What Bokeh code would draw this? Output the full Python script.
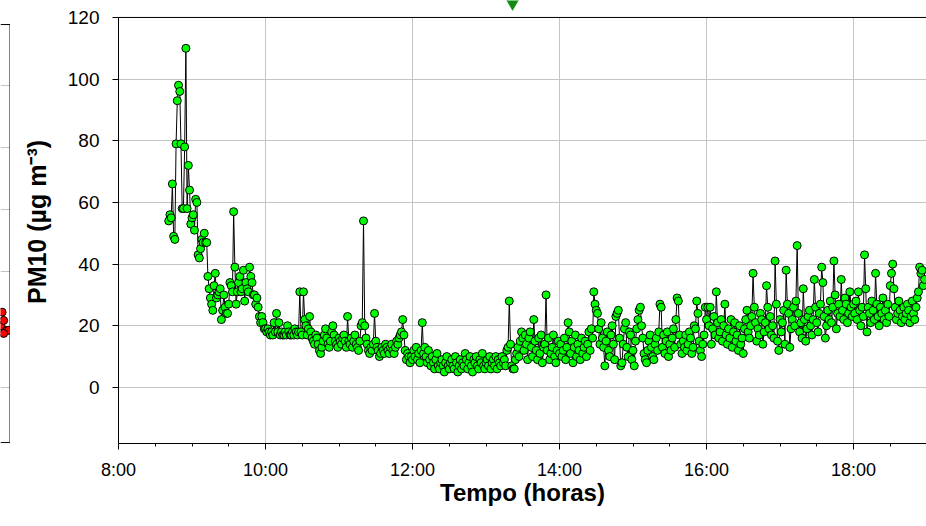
from bokeh.plotting import figure
from bokeh.layouts import row
from bokeh.models import FixedTicker, Range1d, Span, ColumnDataSource
from bokeh.embed import file_html
from bokeh.resources import INLINE

# ---- data (PM10, one sample per minute, first sample at 8:41) ----
start_minute = 41          # minutes after 8:00
step_minutes = 1

pm10_0841_0920 = [54, 56, 55, 66, 49, 48, 79, 93, 98, 96,
                  79, 58, 58, 78, 110, 58, 72, 64, 53, 55,
                  56, 51, 61, 60, 43, 42, 45, 48, 47, 50,
                  47, 47, 36, 32, 29, 27, 25, 33, 37, 29]
pm10_0921_1000 = [30, 31, 32, 22, 25, 30, 26, 24, 24, 27,
                  34, 33, 31, 57, 39, 27, 31, 34, 36, 31,
                  32, 38, 28, 34, 32, 31, 39, 36, 34, 30,
                  30, 27, 29, 26, 23, 21, 23, 21, 19, 19]
pm10_1001_1100 = [18, 19, 18, 17, 18, 17, 21, 18, 24, 18,
                  21, 17, 18, 17, 17, 18, 17, 20, 18, 17,
                  17, 18, 17, 19, 18, 17, 18, 31, 18, 17,
                  31, 22, 20, 17, 19, 23, 18, 16, 15, 14,
                  17, 16, 14, 12, 11, 13, 15, 17, 19, 16,
                  14, 13, 15, 18, 20, 17, 15, 14, 13, 16]
pm10_1101_1200 = [15, 14, 16, 17, 15, 13, 23, 15, 14, 16,
                  13, 15, 17, 14, 13, 12, 15, 20, 21, 54,
                  20, 16, 14, 12, 11, 13, 12, 14, 24, 15,
                  13, 12, 10, 11, 13, 12, 11, 14, 13, 12,
                  11, 13, 14, 12, 11, 13, 15, 14, 16, 17,
                  18, 22, 17, 12, 9, 11, 10, 8, 10, 9]
pm10_1201_1300 = [12, 10, 13, 9, 11, 8, 12, 21, 11, 13,
                  10, 8, 12, 9, 7, 10, 8, 6, 9, 11,
                  7, 6, 8, 9, 7, 5, 8, 10, 7, 6,
                  8, 9, 7, 6, 10, 8, 5, 7, 9, 6,
                  8, 7, 11, 9, 6, 8, 10, 7, 5, 9,
                  8, 10, 7, 6, 9, 8, 11, 7, 6, 8]
pm10_1301_1400 = [9, 7, 10, 6, 8, 9, 7, 10, 6, 9,
                  8, 7, 10, 8, 9, 7, 12, 13, 28, 14,
                  7, 6, 6, 9, 11, 13, 10, 15, 18, 16,
                  12, 17, 14, 9, 16, 18, 13, 10, 22, 15,
                  12, 9, 16, 11, 17, 8, 13, 14, 30, 12,
                  16, 9, 11, 13, 17, 10, 8, 12, 15, 11]
pm10_1401_1500 = [14, 10, 12, 16, 9, 13, 21, 18, 11, 15,
                  8, 13, 17, 10, 14, 12, 9, 16, 11, 13,
                  15, 10, 14, 18, 12, 19, 16, 31, 27, 25,
                  24, 19, 14, 21, 16, 13, 7, 15, 18, 12,
                  10, 17, 20, 14, 9, 23, 24, 25, 16, 7,
                  8, 14, 19, 21, 13, 10, 18, 17, 9, 12]
pm10_1501_1600 = [7, 15, 19, 22, 25, 26, 20, 16, 11, 9,
                  8, 12, 15, 17, 13, 10, 9, 14, 16, 12,
                  18, 27, 26, 13, 17, 11, 15, 18, 10, 14,
                  12, 16, 19, 13, 22, 29, 28, 17, 14, 11,
                  15, 13, 17, 12, 14, 18, 16, 11, 13, 20,
                  19, 28, 24, 15, 12, 10, 14, 17, 26, 22]
pm10_1601_1700 = [26, 20, 26, 14, 19, 23, 17, 31, 21, 16,
                  18, 22, 15, 20, 27, 17, 14, 19, 16, 22,
                  13, 18, 21, 15, 17, 12, 20, 14, 16, 11,
                  19, 22, 25, 18, 16, 20, 23, 37, 26, 21,
                  15, 19, 17, 24, 22, 14, 18, 21, 33, 26,
                  19, 23, 17, 20, 16, 41, 27, 15, 12, 22]
pm10_1701_1800 = [18, 21, 25, 14, 38, 27, 24, 13, 19, 22,
                  26, 20, 28, 46, 24, 18, 21, 16, 32, 22,
                  15, 19, 23, 25, 20, 17, 22, 35, 26, 21,
                  18, 24, 27, 39, 34, 23, 16, 20, 25, 22,
                  28, 21, 26, 41, 30, 19, 24, 27, 23, 35,
                  25, 22, 29, 27, 21, 24, 31, 26, 23, 27]
pm10_1801_1858 = [24, 28, 22, 31, 25, 20, 26, 23, 43, 32,
                  18, 26, 24, 21, 28, 25, 22, 37, 27, 23,
                  20, 26, 24, 29, 22, 25, 21, 27, 23, 33,
                  37, 40, 32, 26, 22, 24, 28, 25, 21, 23,
                  26, 22, 24, 27, 25, 21, 23, 28, 24, 22,
                  26, 29, 31, 39, 37, 38, 33, 35]

pm10 = (pm10_0841_0920 + pm10_0921_1000 + pm10_1001_1100 + pm10_1101_1200 +
        pm10_1201_1300 + pm10_1301_1400 + pm10_1401_1500 + pm10_1501_1600 +
        pm10_1601_1700 + pm10_1701_1800 + pm10_1801_1858)
hours = [8 + (start_minute + i * step_minutes) / 60 for i in range(len(pm10))]

x_ticks = [8, 10, 12, 14, 16, 18]
x_tick_labels = ["8:00", "10:00", "12:00", "14:00", "16:00", "18:00"]
x_minor_ticks = [8.5, 9, 9.5, 10.5, 11, 11.5, 12.5, 13, 13.5, 14.5, 15, 15.5,
                 16.5, 17, 17.5, 18.5]
y_ticks = [0, 20, 40, 60, 80, 100, 120]
y_axis_min, y_axis_max = -18.2, 120
y_view_max = 125.5

x_label = "Tempo (horas)"
y_label = "PM10 (µg m⁻³)"

# neighbouring panel (only its right edge is visible at the left)
left_x = [0.5, 3.3, 1.7, 6.7, 8.3, 3.3]
left_v = [20.0, 21.7, 24.4, 18.5, 18.5, 17.5]
left_grid_levels = [0, 17.5, 37.6, 57.7, 77.8, 98.0]
left_box = (-17.9, 117.7)
left_edge = 10

# marker from the panel above (only its tip is visible)
marker_time = [13.361]
marker_level = [124.9]

font = "Liberation Sans"

# ---------------- left strip (neighbouring panel) ----------------
lp = figure(width=10, height=526, output_backend="svg", toolbar_location=None,
            x_range=Range1d(0, 10.5), y_range=Range1d(y_axis_min, y_view_max),
            min_border_left=0, min_border_right=0, min_border_top=0,
            min_border_bottom=83, x_axis_location=None, y_axis_location=None)
lp.outline_line_color = None
lp.xgrid.visible = False
lp.ygrid.ticker = FixedTicker(ticks=left_grid_levels)
lp.ygrid.grid_line_color = "#c4c4c4"
lp.segment(x0=[left_edge], y0=[left_box[0]], x1=[left_edge], y1=[left_box[1]],
           line_color="black", line_width=1)
lp.segment(x0=[0, 0], y0=list(left_box), x1=[left_edge, left_edge], y1=list(left_box),
           line_color="black", line_width=1)
lp.scatter(left_x, left_v, size=8, fill_color="#ff0000", line_color="black", line_width=1)

# ---------------- main panel ----------------
src = ColumnDataSource(data=dict(t=hours, v=pm10))

p = figure(width=916, height=526, output_backend="svg", toolbar_location=None,
           x_range=Range1d(8, 18.993), y_range=Range1d(y_axis_min, y_view_max),
           min_border_left=108, min_border_right=0, min_border_top=0,
           min_border_bottom=83)
p.outline_line_color = None
p.background_fill_color = "white"
p.border_fill_color = "white"

for ax in (p.xaxis[0], p.yaxis[0]):
    ax.axis_line_color = "black"
    ax.axis_line_width = 1
    ax.major_tick_line_color = "black"
    ax.major_tick_in = 0
    ax.major_tick_out = 6
    ax.major_label_text_font = font
    ax.major_label_text_color = "black"
    ax.axis_label_text_font = font
    ax.axis_label_text_font_style = "bold"
    ax.axis_label_text_color = "black"

p.xaxis.ticker = FixedTicker(ticks=x_ticks, minor_ticks=x_minor_ticks)
p.xaxis.major_label_overrides = dict(zip(x_ticks, x_tick_labels))
p.xaxis.major_label_text_font_size = "18px"
p.xaxis.major_label_standoff = 10
p.xaxis.minor_tick_line_color = "black"
p.xaxis.minor_tick_in = 0
p.xaxis.minor_tick_out = 3
p.xaxis.axis_label = x_label
p.xaxis.axis_label_text_font_size = "24px"
p.xaxis.axis_label_standoff = -4

p.yaxis.ticker = FixedTicker(ticks=y_ticks)
p.yaxis.bounds = (y_axis_min, y_axis_max)
p.yaxis.major_label_text_font_size = "19px"
p.yaxis.major_label_standoff = 13
p.yaxis.minor_tick_line_color = None
p.yaxis.axis_label = y_label
p.yaxis.axis_label_text_font_size = "25px"
p.yaxis.axis_label_standoff = 14

p.xgrid.visible = False
p.ygrid.ticker = FixedTicker(ticks=y_ticks)
p.ygrid.grid_line_color = "#c4c4c4"
p.ygrid.grid_line_width = 1
# vertical grid lines only inside the plotting box
p.segment(x0=x_ticks, y0=[y_axis_min] * len(x_ticks), x1=x_ticks,
          y1=[y_axis_max] * len(x_ticks), line_color="#c4c4c4", line_width=1,
          level="underlay")

p.add_layout(Span(location=y_axis_max, dimension="width", line_color="black",
                  line_width=1))

p.line("t", "v", source=src, line_color="black", line_width=1)
p.scatter("t", "v", source=src, size=8, fill_color="#00ff00", line_color="black",
          line_width=1)
p.scatter(marker_time, marker_level, marker="inverted_triangle", size=14,
          fill_color="#138a13", line_color="#138a13", line_width=0.5)

layout = row(lp, p)
open("out.html", "w").write(file_html(layout, INLINE))
